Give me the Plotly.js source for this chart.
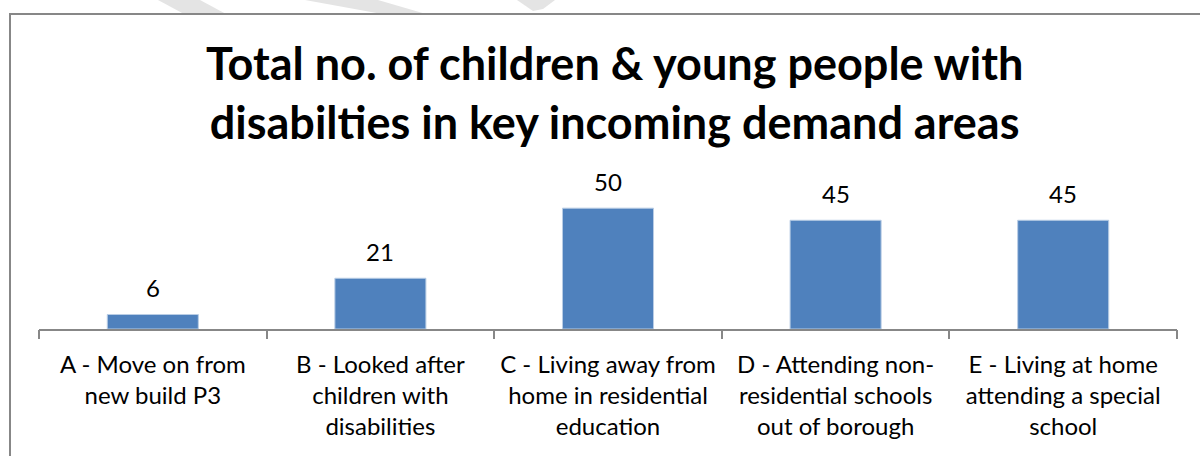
<!DOCTYPE html>
<html>
<head>
<meta charset="utf-8">
<script src="https://cdn.plot.ly/plotly-3.0.1.min.js"></script>
<style>
  html, body { margin: 0; padding: 0; background: #fff; }
  #chart { width: 1200px; height: 456px; }
</style>
</head>
<body>
<div id="chart"></div>
<script>
// ---- Data ----
const categories = [
  "A - Move on from<br>new build P3",
  "B - Looked after<br>children with<br>disabilities",
  "C - Living away from<br>home in residential<br>education",
  "D - Attending non-<br>residential schools<br>out of borough",
  "E - Living at home<br>attending a special<br>school"
];
const values = [6, 21, 50, 45, 45];
const chartTitle = "Total no. of children &amp; young people with<br>disabilties in key incoming demand areas";

// ---- Layout helpers (pixel -> paper) ----
const W = 1200, H = 456;
const M = {l: 39, r: 23, t: 184, b: 127};
const pw = W - M.l - M.r, ph = H - M.t - M.b;
const px = x => (x - M.l) / pw;
const py = y => (H - M.b - y) / ph;

function poly(pts) {
  return 'M' + pts.map(p => px(p[0]) + ',' + py(p[1])).join(' L') + ' Z';
}

const shapes = [
  // watermark fragments (decoration)
  {type: 'path', xref: 'paper', yref: 'paper', layer: 'below',
   path: poly([[158,0],[200,0],[226,14],[184,14]]), fillcolor: '#e4e4e4', line: {width: 0}},
  {type: 'path', xref: 'paper', yref: 'paper', layer: 'below',
   path: poly([[305,0],[378,0],[426,14],[382,14]]), fillcolor: '#e4e4e4', line: {width: 0}},
  {type: 'path', xref: 'paper', yref: 'paper', layer: 'below',
   path: poly([[517,0],[555,0],[543,9],[533,11]]), fillcolor: '#e4e4e4', line: {width: 0}},
  // chart border
  {type: 'rect', xref: 'paper', yref: 'paper', layer: 'above',
   x0: px(10), x1: px(1260), y0: py(520), y1: py(14),
   line: {color: '#878787', width: 2}, fillcolor: 'rgba(0,0,0,0)'}
];

const annotations = values.map((v, i) => ({
  x: i, y: v, xref: 'x', yref: 'y',
  text: String(v), showarrow: false,
  yanchor: 'middle', yshift: 27,
  font: {family: 'Lato, sans-serif', size: 24, color: '#000'}
}));

const trace = {
  type: 'bar',
  x: categories.map((c, i) => i),
  y: values,
  marker: {color: '#4F81BD', line: {color: '#B9CDE5', width: 1}},
  hoverinfo: 'none'
};

const layout = {
  width: W, height: H,
  margin: M,
  paper_bgcolor: '#fff', plot_bgcolor: '#fff',
  showlegend: false,
  bargap: 0.6,
  title: {
    text: chartTitle,
    x: 607 / W, xanchor: 'center', xref: 'paper',
    y: 1 - 80 / H, yanchor: 'middle', yref: 'container',
    font: {family: 'Lato, sans-serif', size: 45, color: '#000', weight: 'bold'}
  },
  xaxis: {
    type: 'linear',
    range: [-0.5, 4.5],
    tickmode: 'array',
    tickvals: categories.map((c, i) => i),
    ticktext: categories,
    ticks: '',
    showline: true, linecolor: '#878787', linewidth: 2,
    showgrid: false, zeroline: false,
    tickfont: {family: 'Lato, sans-serif', size: 24, color: '#000'},
    ticklabelstandoff: 13,
    fixedrange: true
  },
  xaxis2: {
    overlaying: 'x', matches: 'x', anchor: 'y',
    tickmode: 'array',
    tickvals: [-0.5, 0.5, 1.5, 2.5, 3.5, 4.5],
    ticktext: ['', '', '', '', '', ''],
    ticks: 'outside', ticklen: 9, tickwidth: 2, tickcolor: '#878787',
    showgrid: false, zeroline: false, showline: false
  },
  yaxis: {
    range: [0, 60], visible: false, fixedrange: true
  },
  shapes: shapes,
  annotations: annotations
};

const tickTrace = {type: 'scatter', x: [0], y: [0], xaxis: 'x2', mode: 'markers',
  marker: {opacity: 0}, hoverinfo: 'none'};

Plotly.newPlot('chart', [trace, tickTrace], layout, {displayModeBar: false, staticPlot: true});
</script>
</body>
</html>
